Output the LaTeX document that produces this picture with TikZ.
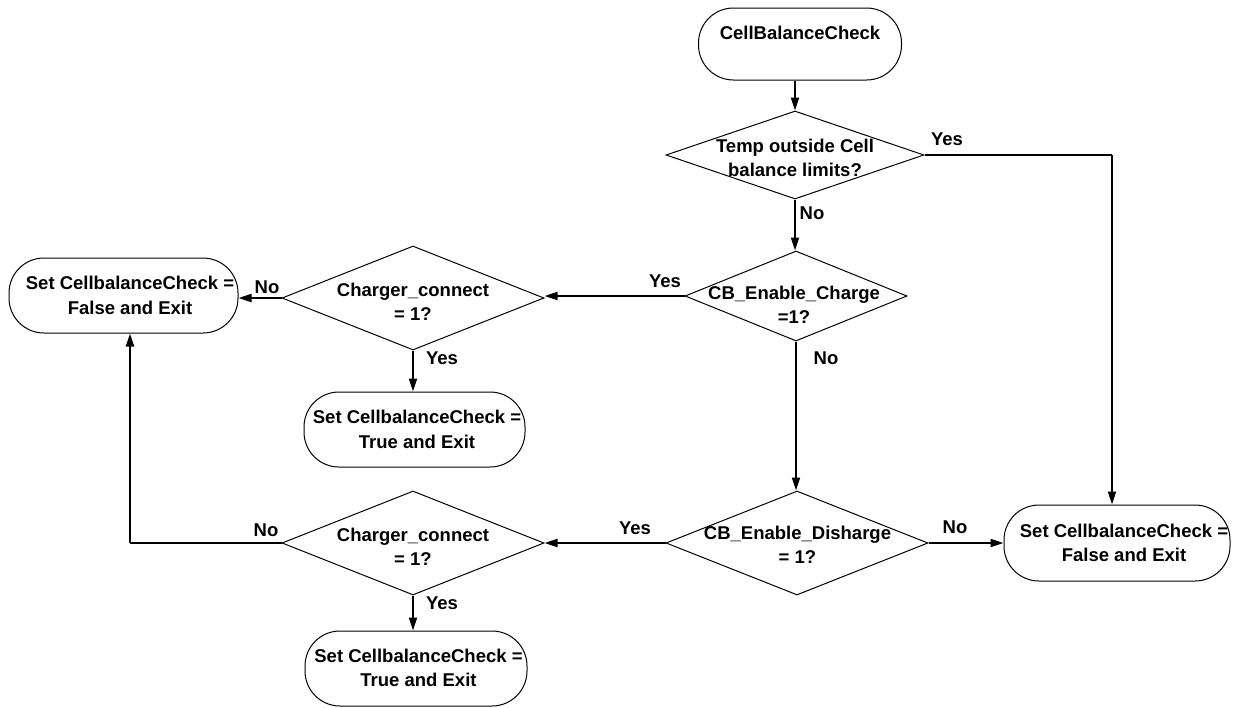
\documentclass[tikz,border=0pt]{standalone}
\usepackage{fontspec}
\setmainfont{Liberation Sans}
\usetikzlibrary{shapes.geometric,arrows.meta}
\begin{document}
\begin{tikzpicture}[x=1pt,y=-1pt,
  every node/.style={font=\bfseries\fontsize{18.5}{24.5}\selectfont},
  dia/.style={diamond,draw,line width=1pt,inner sep=0pt},
  term/.style={draw,line width=1pt,rounded corners=35pt,inner sep=0pt},
  txt/.style={align=center,inner sep=0pt},
  lbl/.style={inner sep=0pt},
  arr/.style={line width=2pt,-{Triangle[length=13pt,width=8pt]}},
  ln/.style={line width=2pt}]
\useasboundingbox (0,0) rectangle (1237,707);
% shapes
\node[term,minimum width=203pt,minimum height=72pt] (s) at (800,44) {};
\node[txt] (st) at (800,33) {CellBalanceCheck};
\node[dia,minimum width=258pt,minimum height=88pt] (d1) at (795,155) {};
\node[txt] (d1t) at (795,158) {Temp outside Cell\\balance limits?};
\node[dia,minimum width=222pt,minimum height=90pt] (d2) at (796,296) {};
\node[txt] (d2t) at (794,305) {CB\_Enable\_Charge\\=1?};
\node[dia,minimum width=262pt,minimum height=104pt] (d3) at (413,298) {};
\node[txt] (d3t) at (413,302) {Charger\_connect\\= 1?};
\node[term,minimum width=229pt,minimum height=75pt] (lt) at (123.5,295.5) {};
\node[txt] (ltt) at (130,295.5) {Set CellbalanceCheck =\\False and Exit};
\node[term,minimum width=221pt,minimum height=75pt] (t1) at (414.5,429.5) {};
\node[txt] (t1t) at (417,429.5) {Set CellbalanceCheck =\\True and Exit};
\node[dia,minimum width=262pt,minimum height=104pt] (d4) at (797,543) {};
\node[txt] (d4t) at (797.5,545) {CB\_Enable\_Disharge\\= 1?};
\node[dia,minimum width=262pt,minimum height=104pt] (d5) at (413,543) {};
\node[txt] (d5t) at (413,547) {Charger\_connect\\= 1?};
\node[term,minimum width=226pt,minimum height=76pt] (rt) at (1117,543) {};
\node[txt] (rtt) at (1124,543) {Set CellbalanceCheck =\\False and Exit};
\node[term,minimum width=222pt,minimum height=75pt] (t2) at (416,668.5) {};
\node[txt] (t2t) at (418.5,668) {Set CellbalanceCheck =\\True and Exit};
% connectors
\coordinate (c1) at (1112,155);
\coordinate (c2) at (130,543);
\draw[arr] (d1.north |- s.south) -- (d1.north);
\draw[arr] (d1.south) -- (d1.south |- d2.north);
\draw[ln] (d1.east) -- (c1);
\draw[arr] (c1) -- (c1 |- rt.north);
\draw[arr] (d2.west) -- (d2.west -| d3.east);
\draw[arr] (d3.west) -- (d3.west -| lt.east);
\draw[arr] (d3.south) -- (d3.south |- t1.north);
\draw[arr] (d2.south) -- (d2.south |- d4.north);
\draw[arr] (d4.west) -- (d4.west -| d5.east);
\draw[arr] (d4.east) -- (d4.east -| rt.west);
\draw[ln] (d5.west) -- (c2);
\draw[arr] (c2) -- (c2 |- lt.south);
\draw[arr] (d5.south) -- (d5.south |- t2.north);
% labels
\node[lbl] (y1) at (947,139) {Yes};
\node[lbl] (n1) at (812,213) {No};
\node[lbl] (y2) at (665,281) {Yes};
\node[lbl] (n2) at (267,287) {No};
\node[lbl] (y3) at (442,358) {Yes};
\node[lbl] (n3) at (826,358) {No};
\node[lbl] (y4) at (635,528) {Yes};
\node[lbl] (n4) at (955,527) {No};
\node[lbl] (n5) at (266,530) {No};
\node[lbl] (y5) at (442,603) {Yes};
\end{tikzpicture}
\end{document}
